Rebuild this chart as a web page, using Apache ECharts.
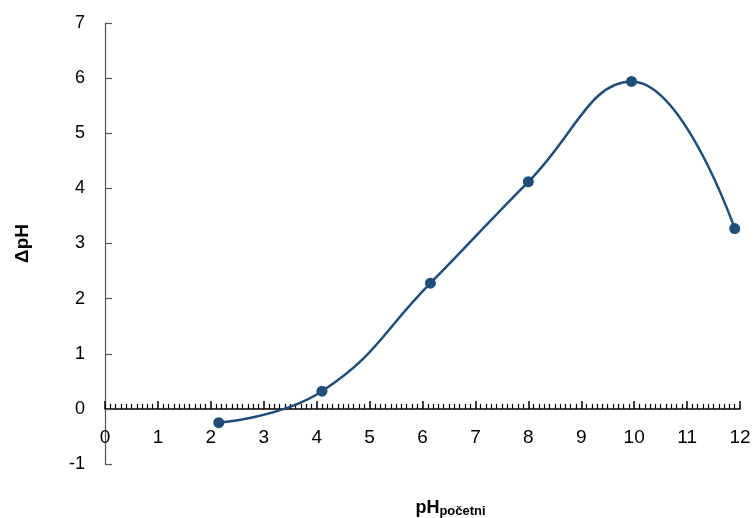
<!DOCTYPE html>
<html>
<head>
<meta charset="utf-8">
<script src="https://cdn.jsdelivr.net/npm/echarts@6/dist/echarts.min.js"></script>
<style>html,body{margin:0;padding:0;background:#fff}#c{width:755px;height:518px}</style>
</head>
<body>
<div id="c"></div>
<script>
var phStart = [2.15, 4.1, 6.15, 8.0, 9.95, 11.9];
var deltaPH = [-0.25, 0.32, 2.28, 4.12, 5.94, 3.27];
var xTicks = [0, 12, 1];
var yTicks = [-1, 7, 1];

var chart = echarts.init(document.getElementById('c'));
var font = 'Liberation Sans, Arial, sans-serif';
var gridTop = 23, gridBottom = 54, H = 518;
var plotH = H - gridTop - gridBottom;
var zeroOffset = -plotH * (0 - yTicks[0]) / (yTicks[1] - yTicks[0]);
chart.setOption({
  animation: false,
  grid: {left: 105, right: 15, top: gridTop, bottom: gridBottom, containLabel: false, outerBoundsMode: 'none'},
  xAxis: {
    type: 'value', min: xTicks[0], max: xTicks[1], interval: xTicks[2],
    offset: zeroOffset,
    axisLine: {onZero: false, lineStyle: {color: '#000', width: 1.5}},
    axisTick: {inside: true, length: 8, lineStyle: {color: '#000', width: 1.5}},
    minorTick: {show: true, splitNumber: 10, length: 5, lineStyle: {color: '#000', width: 1.2}},
    splitLine: {show: false},
    axisLabel: {fontFamily: font, fontSize: 19, color: '#000', margin: 19},
    name: '{a|pH}{b|početni}',
    nameLocation: 'middle',
    nameGap: 88,
    nameTextStyle: {
      padding: [0, 0, 0, 56],
      rich: {
        a: {fontFamily: font, fontSize: 18, fontWeight: 'bold', color: '#000', lineHeight: 22},
        b: {fontFamily: font, fontSize: 13, fontWeight: 'bold', color: '#000', lineHeight: 22, padding: [7, 0, 0, 0]}
      }
    }
  },
  yAxis: {
    type: 'value', min: yTicks[0], max: yTicks[1], interval: yTicks[2],
    axisLine: {show: true, lineStyle: {color: '#555', width: 1.2}},
    axisTick: {show: true, inside: true, length: 7, lineStyle: {color: '#555', width: 1.2}},
    splitLine: {show: false},
    axisLabel: {fontFamily: font, fontSize: 18, color: '#000', margin: 20},
    name: 'ΔpH',
    nameLocation: 'middle',
    nameGap: 73,
    nameTextStyle: {fontFamily: font, fontSize: 19, fontWeight: 'bold', color: '#000'}
  },
  series: [{
    type: 'line',
    data: phStart.map(function (x, i) { return [x, deltaPH[i]]; }),
    smooth: 0.45,
    symbol: 'circle',
    symbolSize: 11,
    itemStyle: {color: '#1F4E79'},
    lineStyle: {color: '#1F4E79', width: 2.5}
  }]
});
</script>
</body>
</html>
